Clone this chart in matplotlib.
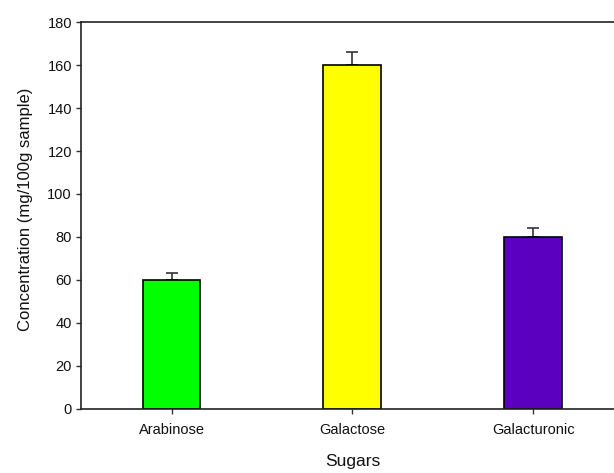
import matplotlib.pyplot as plt

sugars = ['Arabinose', 'Galactose', 'Galacturonic']
conc = [60, 160, 80]
err = [3, 6, 4]
colors = ['#00ff00', '#ffff00', '#5b00bf']

plt.rcParams['font.family'] = ['Liberation Sans', 'DejaVu Sans']

fig = plt.figure(figsize=(6.14, 4.73), dpi=100)
ax = fig.add_axes([0.132, 0.136, 0.884, 0.817])

x = range(len(sugars))
ax.bar(x, conc, width=0.32, color=colors, edgecolor='black', linewidth=1.2, zorder=2)
ax.errorbar(x, conc, yerr=[[0] * len(err), err], fmt='none', ecolor='#333333',
            elinewidth=1.2, capsize=4, capthick=1.2, zorder=1)

ax.set_xlim(-0.5, 2.5)
ax.set_ylim(0, 180)
ax.set_yticks(range(0, 181, 20))
ax.set_xticks(list(x))
ax.set_xticklabels(sugars)
ax.tick_params(axis='both', labelsize=10.5, direction='out', length=3.6, width=1, colors='#333333',
               labelcolor='#111111')
ax.tick_params(axis='x', pad=7)
ax.tick_params(axis='y', pad=3)

for side in ['left', 'bottom', 'top']:
    ax.spines[side].set_linewidth(1.2)
    ax.spines[side].set_color('#222222')
ax.spines['right'].set_visible(False)

ax.set_xlabel('Sugars', fontsize=12.5, labelpad=12, color='#111111')
ax.set_ylabel('Concentration (mg/100g sample)', fontsize=12, color='#111111')
ax.yaxis.set_label_coords(-0.088, 0.515)

fig.savefig('out.png', dpi=100)
